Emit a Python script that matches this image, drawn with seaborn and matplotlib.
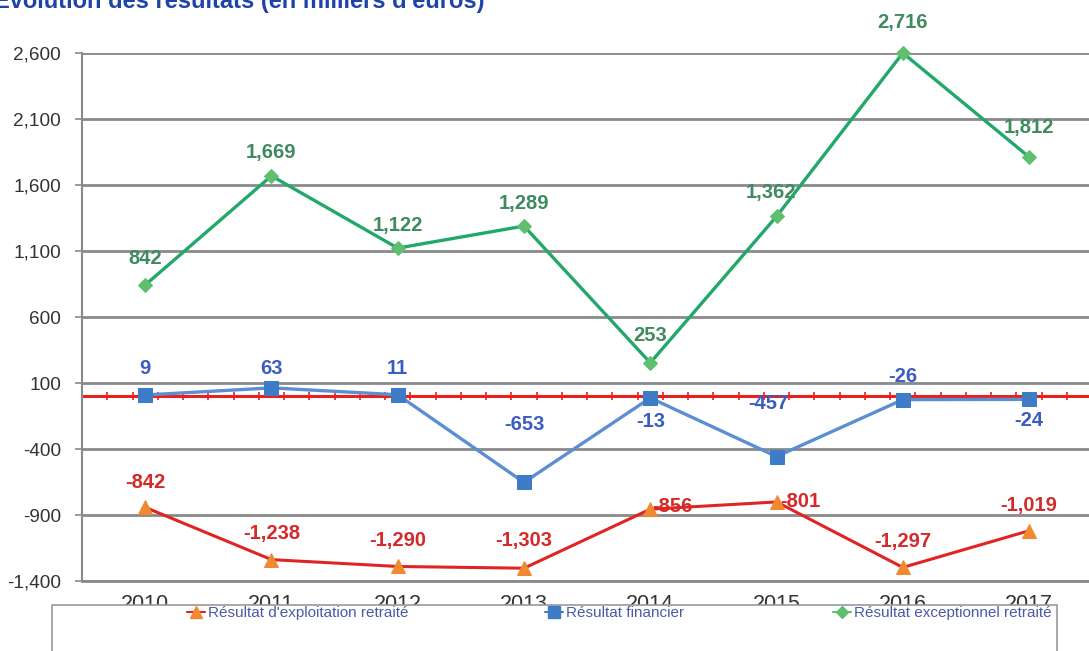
import numpy as np
import pandas as pd
import matplotlib
matplotlib.use("Agg")
import matplotlib.pyplot as plt
from matplotlib.patches import Rectangle
from matplotlib.lines import Line2D
import seaborn as sns

years = ["2010", "2011", "2012", "2013", "2014", "2015", "2016", "2017"]
exploitation = [-842, -1238, -1290, -1303, -856, -801, -1297, -1019]
financier = [9, 63, 11, -653, -13, -457, -26, -24]
exceptionnel = [842, 1669, 1122, 1289, 253, 1362, 2716, 1812]
series_names = ["Résultat d'exploitation retraité", "Résultat financier",
                "Résultat exceptionnel retraité"]
yticks = [-1400, -900, -400, 100, 600, 1100, 1600, 2100, 2600]
title = "Évolution des résultats (en milliers d'euros)"

sns.set_theme(style="white")
plt.rcParams['font.family'] = ['Liberation Sans', 'DejaVu Sans']

fig = plt.figure(figsize=(10.89, 6.51), dpi=100)
ax = fig.add_axes([82 / 1089, 1 - 581 / 651, 1 - 82 / 1089 + 0.003, (581 - 53) / 651])

ymin, ymax = yticks[0], yticks[-1]
pos = np.arange(len(years))
df = pd.DataFrame({"x": pos, "exp": exploitation, "fin": financier, "exc": exceptionnel})
df["exc_shown"] = df["exc"].clip(upper=ymax)

# gridlines
for t in yticks:
    ax.axhline(t, color="#8a8a8a", lw=2.0, zorder=1)

# red zero line with small ticks
ax.axhline(0, color="#e8211f", lw=2.2, zorder=2)
tick_x = np.arange(-0.5, 7.6, 0.2)
ax.plot(tick_x, np.zeros_like(tick_x), ls="none", marker="|", ms=6, mew=1.2,
        color="#e8211f", zorder=2)

sns.lineplot(data=df, x="x", y="exp", ax=ax, color="#e02424", lw=2.2,
             marker="^", markersize=10, markerfacecolor="#f08a30",
             markeredgecolor="#f08a30", zorder=4)
sns.lineplot(data=df, x="x", y="fin", ax=ax, color="#5c8fd2", lw=2.4,
             marker="s", markersize=10, markerfacecolor="#3f7cc8",
             markeredgecolor="#3f7cc8", zorder=4)
sns.lineplot(data=df, x="x", y="exc_shown", ax=ax, color="#22a86a", lw=2.4,
             marker="D", markersize=7, markerfacecolor="#5fbf6f",
             markeredgecolor="#5fbf6f", zorder=4, clip_on=False)

def fmt(v):
    return f"{v:,}"

green_lbl = "#3f8a5e"
blue_lbl = "#3b5cc0"
red_lbl = "#d42a2a"
LFS = 14.5

def label(i, y, text, dx, dy, color):
    ax.annotate(text, (i, y), xytext=(dx, dy), textcoords="offset points",
                color=color, fontsize=LFS, fontweight="bold", ha="center",
                va="center", annotation_clip=False)

green_off = [(0, 19), (0, 17), (0, 16), (0, 16), (0, 19.5), (-4, 17), (0, 22), (0, 21)]
for i, v in enumerate(exceptionnel):
    dx, dy = green_off[i]
    label(i, min(v, ymax), fmt(v), dx, dy, green_lbl)

blue_off = [(0, 19), (0, 14), (0, 19), (0, 42), (0, -17), (-6, 38), (0, 17), (0, -15)]
for i, v in enumerate(financier):
    dx, dy = blue_off[i]
    label(i, v, fmt(v), dx, dy, blue_lbl)

red_off = [(0, 18), (0, 19), (0, 19), (0, 20), (16, 2), (17, 0), (0, 19), (0, 18)]
for i, v in enumerate(exploitation):
    dx, dy = red_off[i]
    label(i, v, fmt(v), dx, dy, red_lbl)

ax.set_xlim(-0.5, len(years) - 0.5)
ax.set_ylim(ymin, ymax)
ax.set_yticks(yticks)
ax.set_yticklabels([fmt(t) for t in yticks])
ax.set_xticks(pos)
ax.set_xticklabels(years)
ax.set_xlabel("")
ax.set_ylabel("")
ax.tick_params(axis="y", labelsize=13.7, labelcolor="#333333", color="#8a8a8a",
               length=5, width=1.2, left=True, pad=10)
ax.tick_params(axis="x", labelsize=15.5, labelcolor="#333333", length=0, pad=9.5)
for s in ["top", "right"]:
    ax.spines[s].set_visible(False)
ax.spines["left"].set_color("#8a8a8a")
ax.spines["left"].set_linewidth(1.5)
ax.spines["bottom"].set_color("#8a8a8a")
ax.spines["bottom"].set_linewidth(2.0)

# legend box
rect = Rectangle((52 / 1089, -0.05), (1057 - 52) / 1089, 1 - 605 / 651 + 0.05,
                 transform=fig.transFigure, facecolor="white",
                 edgecolor="#9a9a9a", lw=1.2, zorder=5)
fig.patches.append(rect)

handles = [
    Line2D([], [], color="#e02424", lw=1.5, marker="^", ms=8,
           markerfacecolor="#f08a30", markeredgecolor="#f08a30"),
    Line2D([], [], color="#3f7cc8", lw=1.5, marker="s", ms=8,
           markerfacecolor="#3f7cc8", markeredgecolor="#3f7cc8"),
    Line2D([], [], color="#5fbf6f", lw=1.5, marker="D", ms=6,
           markerfacecolor="#5fbf6f", markeredgecolor="#5fbf6f"),
]
leg_x = [187, 545, 833]
for h, name, lx in zip(handles, series_names, leg_x):
    leg = fig.legend([h], [name], loc="upper left",
                     bbox_to_anchor=(lx / 1089, 1 - 606 / 651),
                     frameon=False, fontsize=11, handlelength=1.2,
                     handletextpad=0.2, borderaxespad=0, borderpad=0)
    leg.set_zorder(6)
    for t in leg.get_texts():
        t.set_color("#4a5aa8")

fig.text(-6 / 1089, 1 - 8 / 651, title, fontsize=17, fontweight="bold",
         color="#1f44a8", ha="left", va="baseline")

fig.savefig("out.png", dpi=100)
